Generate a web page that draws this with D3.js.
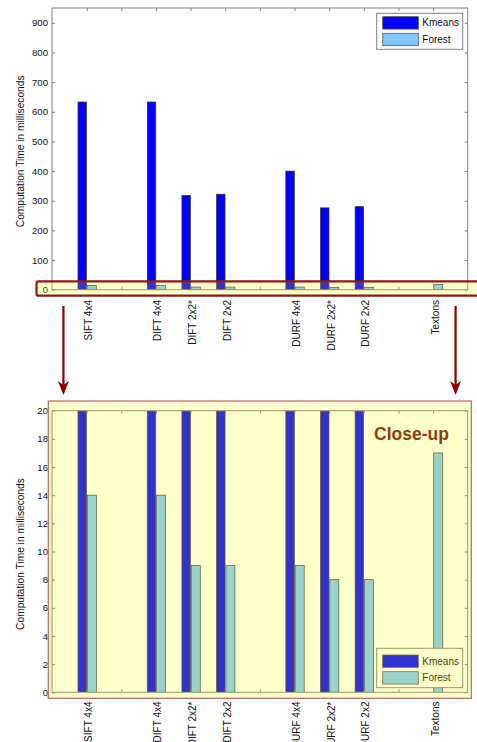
<!DOCTYPE html>
<html><head><meta charset="utf-8">
<script src="https://cdn.jsdelivr.net/npm/d3@7"></script>
<style>
body{margin:0;background:#fff}
svg{display:block}
text{font-family:"Liberation Sans",Arial,Helvetica,sans-serif}
</style>
</head><body>
<svg id="c" width="477" height="742"></svg>
<script>
// ---- data ----
const categories = ["SIFT 4x4", "", "DIFT 4x4", "DIFT 2x2*", "DIFT 2x2", "", "DURF 4x4", "DURF 2x2*", "DURF 2x2", "", "Textons"];
const kmeans = [633, null, 633, 318, 322, null, 400, 276, 280, null, null];
const forest = [14, null, 14, 9, 9, null, 9, 8, 8, null, 17];
const seriesNames = ["Kmeans", "Forest"];
const topTicks = [0, 100, 200, 300, 400, 500, 600, 700, 800, 900];
const closeTicks = [0, 2, 4, 6, 8, 10, 12, 14, 16, 18, 20];
const yLabel = "Computation Time in milliseconds";
const closeUpTitle = "Close-up";

// ---- styles ----
const colKmeans = "#0000ff", colForest = "#80c8ff";
const axisCol = "#808080";
const svg = d3.select("#c");

const slots = d3.range(1, categories.length + 1);
const x = d3.scaleLinear().domain([0, categories.length + 1]).range([52, 467.7]);
const xL = 52, xR = 467.7;

function panel(y, ticks, id, leg) {
  const g = svg.append("g");
  const [y0, y1] = y.range();
  g.append("clipPath").attr("id", id).append("rect")
    .attr("x", xL).attr("y", y1).attr("width", xR - xL).attr("height", y0 - y1);
  g.append("rect").attr("x", xL).attr("y", y1).attr("width", xR - xL).attr("height", y0 - y1).attr("fill", "#fff");
  const bars = g.append("g").attr("clip-path", `url(#${id})`);
  const series = [
    {vals: kmeans, col: colKmeans, off0: -0.25, off1: -0.005},
    {vals: forest, col: colForest, off0: 0.02, off1: 0.28}
  ];
  series.forEach(s => {
    bars.selectAll(null).data(slots.filter((d, i) => s.vals[i] != null))
      .join("rect")
      .attr("x", d => x(d + s.off0))
      .attr("width", d => x(d + s.off1) - x(d + s.off0))
      .attr("y", d => y(Math.min(s.vals[d - 1], y.domain()[1] * 1.05)))
      .attr("height", d => y(0) - y(Math.min(s.vals[d - 1], y.domain()[1] * 1.05)))
      .attr("fill", s.col).attr("stroke", "#333").attr("stroke-width", 0.7);
  });
  // axes
  const left = g.append("g").attr("transform", `translate(${xL},0)`)
    .call(d3.axisLeft(y).tickValues(ticks).tickSizeInner(-3).tickSizeOuter(0).tickPadding(4));
  left.selectAll("text").attr("font-size", 9.6).attr("fill", "#111").attr("font-family", "Liberation Sans, Arial, sans-serif");
  const right = g.append("g").attr("transform", `translate(${xR},0)`)
    .call(d3.axisRight(y).tickValues(ticks).tickSizeInner(-3).tickSizeOuter(0).tickFormat(""));
  const topA = g.append("g").attr("transform", `translate(0,${y1})`)
    .call(d3.axisTop(x).tickValues(slots).tickSizeInner(-3).tickSizeOuter(0).tickFormat(""));
  const botA = g.append("g").attr("transform", `translate(0,${y0})`)
    .call(d3.axisBottom(x).tickValues(slots).tickSizeInner(-3).tickSizeOuter(0).tickFormat(""));
  [left, right, topA, botA].forEach(a => {
    a.select(".domain").remove();
    a.selectAll("line").attr("stroke", axisCol);
  });
  g.append("rect").attr("x", xL).attr("y", y1).attr("width", xR - xL).attr("height", y0 - y1)
    .attr("fill", "none").attr("stroke", axisCol).attr("stroke-width", 1);
  // y label
  g.append("text").attr("transform", `translate(20,${(y0 + y1) / 2 + 2.5}) rotate(-90)`)
    .attr("text-anchor", "middle").attr("dominant-baseline", "central")
    .attr("font-size", 10.2).attr("fill", "#111").text(yLabel);
  // legend
  const lg = g.append("g");
  lg.append("rect").attr("x", 376.7).attr("y", leg.top).attr("width", 86).attr("height", leg.h)
    .attr("fill", "#fff").attr("stroke", axisCol).attr("stroke-width", 1);
  [colKmeans, colForest].forEach((c, i) => {
    const sy = leg.sw[i];
    lg.append("rect").attr("x", 382.7).attr("y", sy).attr("width", 35.6).attr("height", 12.4)
      .attr("fill", c).attr("stroke", "#555").attr("stroke-width", 0.8);
    lg.append("text").attr("x", 422.3).attr("y", sy + 6.2).attr("dominant-baseline", "central")
      .attr("font-size", 10).attr("fill", "#111").text(seriesNames[i]);
  });
  return g;
}

function catLabels(yTop) {
  svg.append("g").selectAll("text").data(slots.filter(d => categories[d - 1] !== ""))
    .join("text")
    .attr("transform", d => `translate(${x(d) + 2},${yTop}) rotate(-90)`)
    .attr("text-anchor", "end").attr("dominant-baseline", "central")
    .attr("font-size", 10).attr("fill", "#111")
    .text(d => categories[d - 1]);
}

// ---- top panel ----
const yTop = d3.scaleLinear().domain([0, 950]).range([289.7, 8]);
panel(yTop, topTicks, "clipTop", {top: 13.3, h: 36, sw: [16.7, 33.3]});
catLabels(300);
// highlight band
svg.append("rect").attr("x", 36.5).attr("y", yTop(28)).attr("width", 460).attr("height", yTop(-20) - yTop(28))
  .attr("rx", 2).attr("fill", "#ffff00").attr("fill-opacity", 0.2)
  .attr("stroke", "#8b1a1a").attr("stroke-width", 2.2);

// arrows
[x(0.33), x(11.65)].forEach(ax => {
  svg.append("line").attr("x1", ax).attr("x2", ax).attr("y1", 306).attr("y2", 386)
    .attr("stroke", "#8b0000").attr("stroke-width", 2.2);
  svg.append("path").attr("d", `M${ax - 5.5},381 L${ax},395 L${ax + 5.5},381 L${ax},385 Z`)
    .attr("fill", "#8b0000");
});

// ---- close-up panel ----
const yClose = d3.scaleLinear().domain([0, 20]).range([692.3, 410.7]);
panel(yClose, closeTicks, "clipClose", {top: 648.3, h: 39.4, sw: [655, 671.7]});
svg.append("rect").attr("x", 48.3).attr("y", 401).attr("width", 423).attr("height", 297.3)
  .attr("fill", "#ffff00").attr("fill-opacity", 0.2)
  .attr("stroke", "#c47070").attr("stroke-width", 1.3);
svg.append("text").attr("x", 374).attr("y", 439.5).attr("font-size", 17.5).attr("font-weight", "bold")
  .attr("fill", "#923a0c").text(closeUpTitle);
catLabels(701.5);
</script>
</body></html>
